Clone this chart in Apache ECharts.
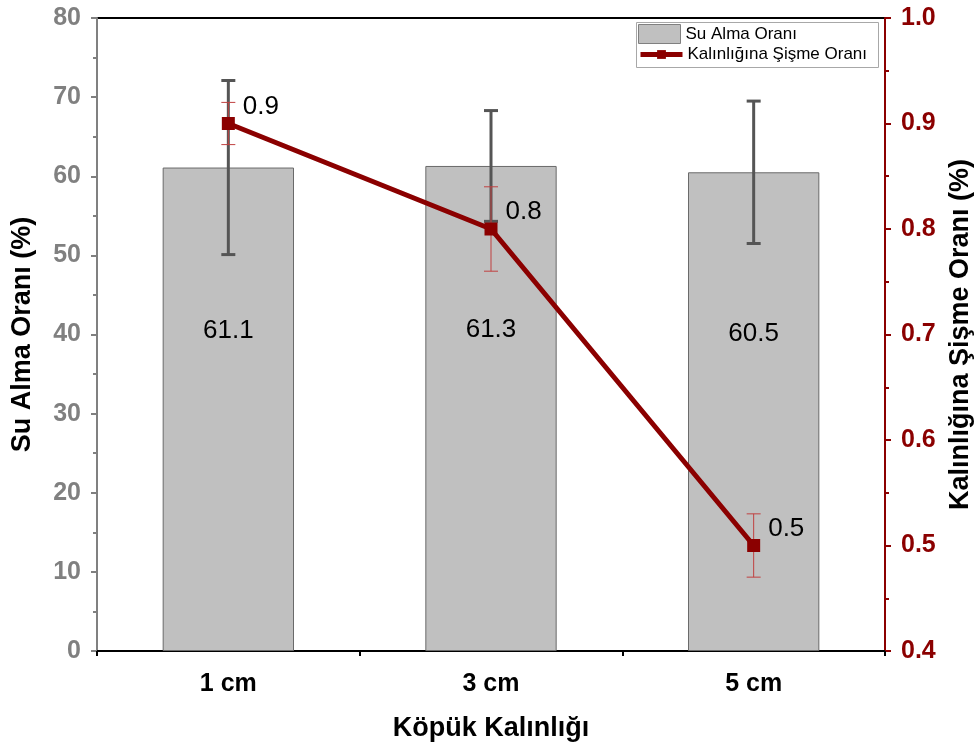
<!DOCTYPE html>
<html>
<head>
<meta charset="utf-8">
<script src="https://cdn.jsdelivr.net/npm/echarts@6/dist/echarts.min.js"></script>
<style>html,body{margin:0;padding:0;background:#fff}#c{width:975px;height:747px}</style>
</head>
<body>
<div id="c"></div>
<script>
const categories = ['1 cm', '3 cm', '5 cm'];
const waterUptake = [61.1, 61.3, 60.5];
const waterUptakeErr = [11, 7, 9];
const swelling = [0.9, 0.8, 0.5];
const swellingErr = [0.02, 0.04, 0.03];
const leftTicks = [0, 10, 20, 30, 40, 50, 60, 70, 80];
const rightTicks = [0.4, 0.5, 0.6, 0.7, 0.8, 0.9, 1.0];

const FONT = '"Liberation Sans", Arial, sans-serif';
const RED = '#8B0000';
const GRAY = '#808080';

function errData(vals, errs) {
  return vals.map((v, i) => [i, v - errs[i], v + errs[i]]);
}
function errRender(color, width, cap) {
  return function (params, api) {
    const x = api.value(0);
    const lo = api.coord([x, api.value(1)]);
    const hi = api.coord([x, api.value(2)]);
    const s = { stroke: color, lineWidth: width };
    return {
      type: 'group',
      children: [
        { type: 'line', shape: { x1: lo[0], y1: lo[1], x2: hi[0], y2: hi[1] }, style: s },
        { type: 'line', shape: { x1: lo[0] - cap, y1: lo[1], x2: lo[0] + cap, y2: lo[1] }, style: s },
        { type: 'line', shape: { x1: hi[0] - cap, y1: hi[1], x2: hi[0] + cap, y2: hi[1] }, style: s }
      ]
    };
  };
}

const chart = echarts.init(document.getElementById('c'), null, { renderer: 'canvas' });
chart.setOption({
  animation: false,
  textStyle: { fontFamily: FONT },
  grid: { left: 97, right: 90, top: 18, bottom: 96, outerBoundsMode: 'none', containLabel: false,
    show: true, borderColor: '#000', borderWidth: 2, backgroundColor: 'transparent' },
  graphic: [{
    type: 'rect', left: 636, top: 22, z: 1,
    shape: { width: 242, height: 45 },
    style: { fill: '#fff', stroke: '#a8a8a8', lineWidth: 1 }
  }],
  legend: [{
    orient: 'vertical', left: 638, top: 24, padding: 0,
    itemWidth: 42, itemHeight: 19, icon: 'rect',
    itemStyle: { borderColor: '#808080', borderWidth: 1 },
    textStyle: { fontSize: 17, color: '#000', fontFamily: FONT },
    data: ['Su Alma Oranı'], z: 3
  }, {
    orient: 'vertical', left: 638, top: 46, padding: 0,
    itemWidth: 42, itemHeight: 11,
    lineStyle: { width: 5, color: RED },
    textStyle: { fontSize: 17, color: '#000', fontFamily: FONT },
    data: ['Kalınlığına Şişme Oranı'], z: 3
  }],
  xAxis: [{
    type: 'category', data: categories, position: 'bottom',
    axisLine: { lineStyle: { color: '#000', width: 2 } },
    axisTick: { alignWithLabel: true, length: 8, lineStyle: { color: '#000', width: 2 } },
    axisLabel: { color: '#000', fontSize: 25, fontWeight: 'bold', margin: 21 },
    name: 'Köpük Kalınlığı', nameLocation: 'middle', nameGap: 64,
    nameTextStyle: { color: '#000', fontSize: 27, fontWeight: 'bold' }
  }, {
    type: 'value', min: 0, max: 3, interval: 1, position: 'bottom',
    axisLine: { show: false },
    axisTick: { show: true, length: 5, lineStyle: { color: '#000', width: 2 } },
    axisLabel: { show: false }, splitLine: { show: false }
  }],
  yAxis: [{
    type: 'value', min: 0, max: 80, interval: 10, position: 'left',
    axisLine: { show: true, lineStyle: { color: GRAY, width: 2 } },
    axisTick: { show: true, length: 6, lineStyle: { color: GRAY, width: 2 } },
    minorTick: { show: true, splitNumber: 2, length: 4, lineStyle: { color: GRAY, width: 2 } },
    splitLine: { show: false },
    axisLabel: { color: GRAY, fontSize: 25, fontWeight: 'bold', margin: 16 },
    name: 'Su Alma Oranı (%)', nameLocation: 'middle', nameGap: 61,
    nameTextStyle: { color: '#000', fontSize: 27, fontWeight: 'bold' }
  }, {
    type: 'value', min: 0.4, max: 1.0, interval: 0.1, position: 'right',
    axisLine: { show: true, lineStyle: { color: RED, width: 2 } },
    axisTick: { show: true, length: 6, lineStyle: { color: RED, width: 2 } },
    minorTick: { show: true, splitNumber: 2, length: 4, lineStyle: { color: RED, width: 2 } },
    splitLine: { show: false },
    axisLabel: { color: RED, fontSize: 25, fontWeight: 'bold', margin: 16, formatter: v => v.toFixed(1) },
    name: 'Kalınlığına Şişme Oranı (%)', nameLocation: 'middle', nameGap: 61,
    nameTextStyle: { color: '#000', fontSize: 27, fontWeight: 'bold' }
  }],
  series: [{
    name: 'Su Alma Oranı', type: 'bar', data: waterUptake, barWidth: '50%',
    xAxisIndex: 0, yAxisIndex: 0,
    itemStyle: { color: '#c0c0c0', borderColor: '#6a6a6a', borderWidth: 1 },
    label: { show: true, position: ['50%', '33.8%'], align: 'center', verticalAlign: 'middle', color: '#000', fontSize: 26, formatter: p => p.value.toFixed(1) },
    z: 2
  }, {
    type: 'custom', xAxisIndex: 0, yAxisIndex: 0,
    data: errData(waterUptake, waterUptakeErr),
    renderItem: errRender('#555555', 3, 7), z: 3, silent: true
  }, {
    type: 'custom', xAxisIndex: 0, yAxisIndex: 1,
    data: errData(swelling, swellingErr),
    renderItem: errRender('#c04040', 1, 7), z: 4, silent: true
  }, {
    name: 'Kalınlığına Şişme Oranı', type: 'line', data: swelling,
    xAxisIndex: 0, yAxisIndex: 1,
    color: RED,
    lineStyle: { color: RED, width: 5 },
    itemStyle: { color: RED },
    symbol: 'rect', symbolSize: 13,
    label: { show: true, position: 'right', offset: [3, -17], color: '#000', fontSize: 26 },
    z: 5
  }]
});
</script>
</body>
</html>
